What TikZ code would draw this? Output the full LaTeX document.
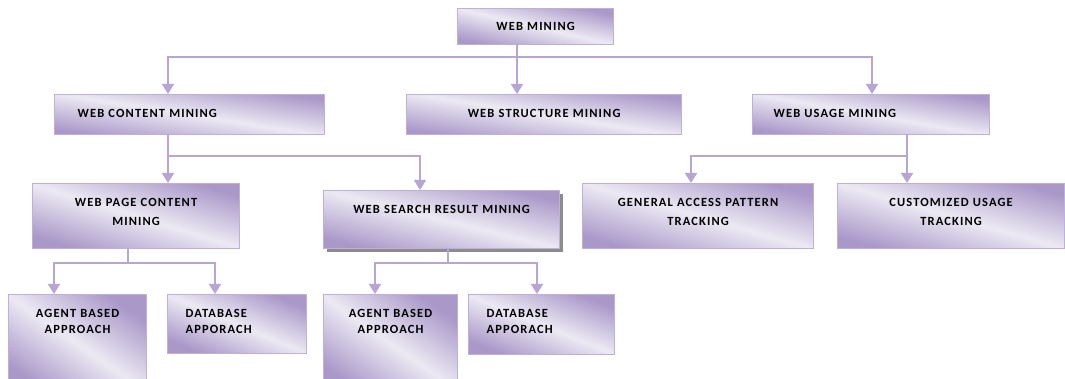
\documentclass[tikz,border=0pt]{standalone}
\usepackage{fontspec}
\newfontfamily\boxfont[LetterSpace=9]{Carlito}
\usetikzlibrary{arrows.meta, shadows}
\definecolor{boxdark}{RGB}{170,152,201}
\definecolor{boxlight}{RGB}{236,233,243}
\definecolor{boxline}{RGB}{190,176,217}
\definecolor{linkcol}{RGB}{183,166,212}

\begin{document}
\begin{tikzpicture}[x=1pt,y=-1pt,
	box/.style={draw=boxline, line width=1.2pt, top color=boxdark, bottom color=boxdark, middle color=boxlight, anchor=north west, inner ysep=0pt, font=\boxfont\bfseries\fontsize{12.5}{19}\selectfont},
	midbox/.style={box, inner xsep=0pt, align=center},
	leftbox/.style={box, align=left},
	tight/.style={font=\boxfont\bfseries\fontsize{12.5}{16}\selectfont},
	link/.style={draw=linkcol, line width=2pt, line cap=rect},
	arr/.style={draw=linkcol, line width=2pt, -{Triangle[width=12pt,length=10pt]}}]
	\useasboundingbox (0,0) rectangle (1065,379);
	% boxes
	\node[midbox, shading angle=-13, text width=156pt, text height=22pt, text depth=14pt] (wm) at (457,8) {WEB MINING};
	\node[leftbox, shading angle=-9, inner xsep=23pt, text width=224pt, text height=23pt, text depth=17pt] (wcm) at (54,94) {WEB CONTENT MINING};
	\node[midbox, shading angle=-9, text width=275pt, text height=23pt, text depth=17pt] (wsm) at (406,94) {WEB STRUCTURE MINING};
	\node[leftbox, shading angle=-10, inner xsep=21pt, text width=195pt, text height=23pt, text depth=17pt] (wum) at (752,94) {WEB USAGE MINING};
	\node[midbox, shading angle=-17, text width=207pt, text height=23pt, text depth=42pt] (wpc) at (32,183) {WEB PAGE CONTENT\\ MINING};
	\node[midbox, shading angle=-14, text width=236pt, text height=23pt, text depth=35pt, drop shadow={shadow xshift=3pt, shadow yshift=-3pt, fill=black!45, opacity=1}] (wsr) at (323,190) {WEB SEARCH RESULT MINING};
	\node[midbox, shading angle=-16, text width=231pt, text height=23pt, text depth=42pt] (gap) at (582,183) {GENERAL ACCESS PATTERN\\ TRACKING};
	\node[midbox, shading angle=-16, text width=227pt, text height=23pt, text depth=42pt] (cut) at (837,183) {CUSTOMIZED USAGE\\ TRACKING};
	\node[midbox, tight, shading angle=-35, text width=138pt, text height=23pt, text depth=75pt] (ab1) at (8,294) {AGENT BASED\\ APPROACH};
	\node[leftbox, tight, shading angle=-23, inner xsep=18pt, text width=103pt, text height=23pt, text depth=36pt] (db1) at (167,294) {DATABASE\\ APPORACH};
	\node[midbox, tight, shading angle=-35, text width=134pt, text height=23pt, text depth=75pt] (ab2) at (323,294) {AGENT BASED\\ APPROACH};
	\node[leftbox, tight, shading angle=-22, inner xsep=18pt, text width=110pt, text height=23pt, text depth=37pt] (db2) at (468,294) {DATABASE\\ APPORACH};
	% first level
	\coordinate (b1) at (168,57);
	\coordinate (b2) at (517,57);
	\coordinate (b3) at (872,57);
	\draw[link] (wm.south -| b2) -- (b2);
	\draw[link] (b1) -- (b3);
	\draw[arr] (b1) -- (b1 |- wcm.north);
	\draw[arr] (b2) -- (b2 |- wsm.north);
	\draw[arr] (b3) -- (b3 |- wum.north);
	% second level
	\coordinate (c1) at (168,156);
	\coordinate (c2) at (420,156);
	\draw[link] (wcm.south -| c1) -- (c1) -- (c2);
	\draw[arr] (c1) -- (c1 |- wpc.north);
	\draw[arr] (c2) -- (c2 |- wsr.north);
	\coordinate (d1) at (691,156);
	\coordinate (d2) at (907,156);
	\draw[link] (wum.south -| d2) -- (d2) -- (d1);
	\draw[arr] (d1) -- (d1 |- gap.north);
	\draw[arr] (d2) -- (d2 |- cut.north);
	% third level
	\coordinate (e0) at (128,263);
	\coordinate (e1) at (54,263);
	\coordinate (e2) at (215,263);
	\draw[link] (wpc.south -| e0) -- (e0);
	\draw[link] (e1) -- (e2);
	\draw[arr] (e1) -- (e1 |- ab1.north);
	\draw[arr] (e2) -- (e2 |- db1.north);
	\coordinate (f0) at (448,263);
	\coordinate (f1) at (375,263);
	\coordinate (f2) at (537,263);
	\draw[link] (wsr.south -| f0) -- (f0);
	\draw[link] (f1) -- (f2);
	\draw[arr] (f1) -- (f1 |- ab2.north);
	\draw[arr] (f2) -- (f2 |- db2.north);
\end{tikzpicture}
\end{document}
